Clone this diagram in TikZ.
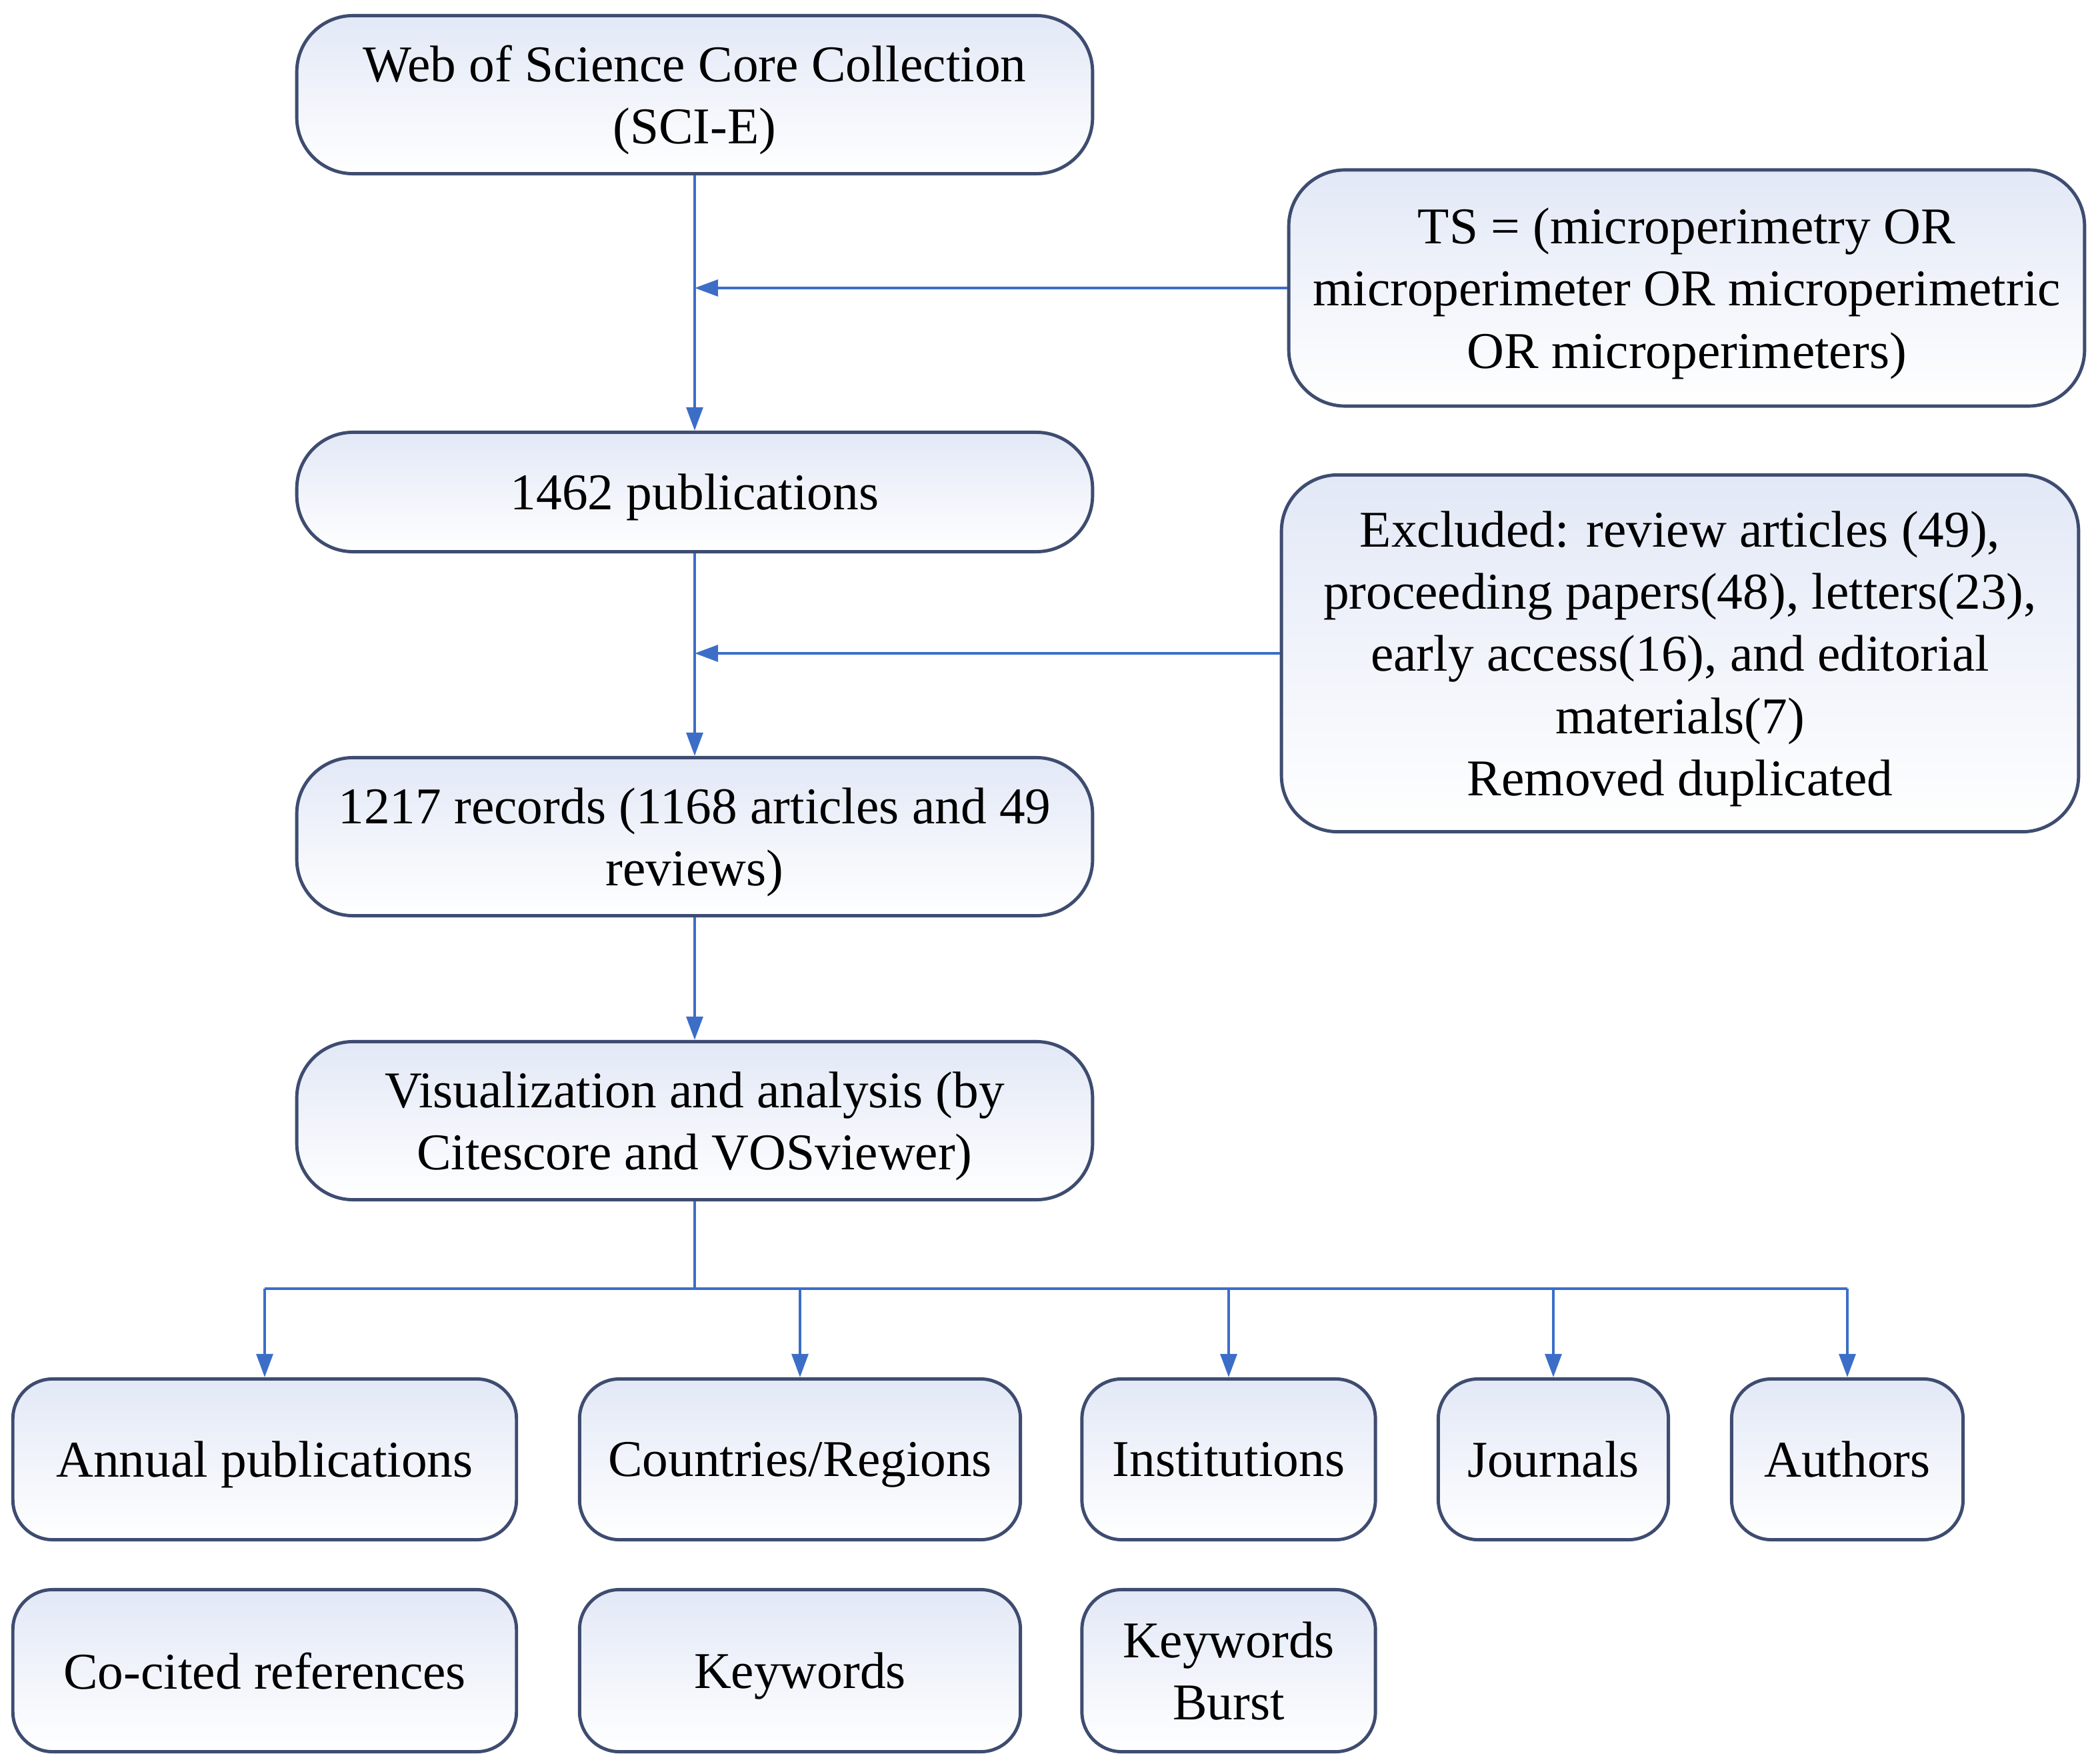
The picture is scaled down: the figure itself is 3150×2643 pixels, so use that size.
\documentclass[tikz,border=0pt]{standalone}
\usepackage{fontspec}
\setmainfont{Liberation Serif}
\usetikzlibrary{arrows.meta,positioning,calc}
\definecolor{edge}{RGB}{62,76,112}
\definecolor{arrblue}{RGB}{60,110,200}
\definecolor{fillblue}{RGB}{226,232,246}
\tikzset{
  box/.style={draw=edge, line width=1.4pt, rounded corners=24pt, top color=fillblue, bottom color=white,
    align=center, inner sep=2pt, text depth=0pt, font=\fontsize{22}{26.5}\selectfont},
  smallbox/.style={box, rounded corners=17pt},
  arr/.style={draw=arrblue, line width=1.3pt, -{Triangle[length=10pt,width=7pt]}},
  ln/.style={draw=arrblue, line width=1.3pt}
}
\begin{document}
\begin{tikzpicture}[x=0.01cm,y=-0.01cm]
\useasboundingbox (0,0) rectangle (3150,2643);
\fill[white] (0,0) rectangle (3150,2643);

\node[box, minimum width=11.93cm, minimum height=2.37cm] (wos) at (1042,142) {Web of Science Core Collection\\(SCI-E)};
\node[box, minimum width=11.93cm, minimum height=3.54cm] (ts) at (2530,432) {TS = (microperimetry OR\\microperimeter OR microperimetric\\OR microperimeters)};
\node[box, minimum width=11.93cm, minimum height=1.79cm] (p1462) at (1042,738) {1462 publications};
\node[box, minimum width=11.95cm, minimum height=5.35cm] (excl) at (2520,980) {Excluded: review articles (49),\\proceeding papers(48), letters(23),\\early access(16), and editorial\\materials(7)\\Removed duplicated};
\node[box, minimum width=11.93cm, minimum height=2.37cm] (r1217) at (1042,1255) {1217 records (1168 articles and 49\\reviews)};
\node[box, minimum width=11.93cm, minimum height=2.37cm] (vis) at (1042,1681) {Visualization and analysis (by\\Citescore and VOSviewer)};

\node[smallbox, minimum width=7.55cm, minimum height=2.41cm] (annual) at (397,2189) {Annual publications};
\node[smallbox, minimum width=6.61cm, minimum height=2.41cm] (countries) at (1200,2189) {Countries/Regions};
\node[smallbox, minimum width=4.40cm, minimum height=2.41cm] (inst) at (1843,2189) {Institutions};
\node[smallbox, minimum width=3.45cm, minimum height=2.41cm] (journals) at (2330,2189) {Journals};
\node[smallbox, minimum width=3.47cm, minimum height=2.41cm] (authors) at (2771,2189) {Authors};

\node[smallbox, minimum width=7.55cm, minimum height=2.43cm] (cocited) at (397,2506) {Co-cited references};
\node[smallbox, minimum width=6.61cm, minimum height=2.43cm] (keywords) at (1200,2506) {Keywords};
\node[smallbox, minimum width=4.40cm, minimum height=2.43cm] (burst) at (1843,2506) {Keywords\\Burst};

\draw[arr] (wos.south) -- (p1462.north);
\draw[arr] (ts.west) -- (ts.west -| wos.south);
\draw[arr] (p1462.south) -- (r1217.north);
\draw[arr] (excl.west) -- (excl.west -| wos.south);
\draw[arr] (r1217.south) -- (vis.north);

\coordinate (bus) at (1042,1933);
\draw[ln] (vis.south) -- (bus);
\draw[ln] (bus -| annual.north) -- (bus -| authors.north);
\foreach \n in {annual,countries,inst,journals,authors}{
  \draw[arr] (bus -| \n.north) -- (\n.north);
}
\end{tikzpicture}
\end{document}
